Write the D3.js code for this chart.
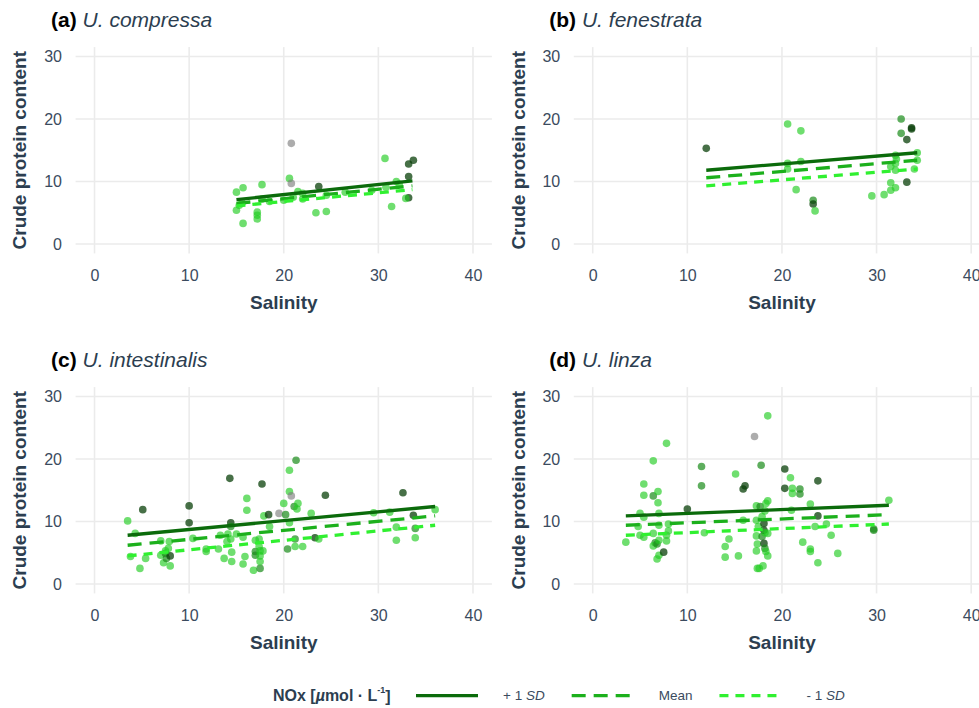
<!DOCTYPE html>
<html>
<head>
<meta charset="utf-8">
<script src="https://cdn.jsdelivr.net/npm/d3@7"></script>
<style>
  body { margin: 0; background: #fff; }
  svg { display: block; font-family: "Liberation Sans", Arial, Helvetica, sans-serif; }
</style>
</head>
<body>
<div id="root"></div>
<script>
// Panel titles
var panelLetters = ["(a)", "(b)", "(c)", "(d)"];
var speciesNames = ["U. compressa", "U. fenestrata", "U. intestinalis", "U. linza"];

// Tick labels
var xTicks = [0, 10, 20, 30, 40];
var yTicks = [0, 10, 20, 30];

// Points: [salinity, crude protein, NOx level] (2 = high, 1 = mid, 0 = low, -1 = missing)
var compressaPoints = [
  [15.0, 8.3, 0], [15.7, 9.0, 0], [15.0, 5.4, 0], [15.7, 3.3, 0], [15.6, 6.6, 0],
  [15.3, 6.2, 0], [17.7, 9.5, 0], [17.2, 5.1, 0], [17.2, 4.6, 0], [17.2, 4.0, 0],
  [17.7, 7.2, 0], [18.5, 6.8, 0], [20.8, 16.1, -1], [20.6, 10.5, 0], [20.8, 9.7, -1],
  [21.0, 7.5, 0], [21.5, 8.4, 0], [22.0, 8.1, 0], [22.0, 7.2, 0], [20.0, 7.0, 0],
  [23.7, 9.2, 2], [23.4, 5.0, 0], [24.5, 5.2, 0], [24.5, 7.8, 0], [26.5, 8.3, 0],
  [29.3, 8.6, 0], [30.7, 13.7, 0], [30.8, 9.1, 0], [31.4, 6.0, 0], [31.9, 10.0, 0],
  [32.2, 9.6, 0], [33.2, 12.8, 2], [33.7, 13.4, 2], [33.2, 10.8, 2], [33.2, 7.4, 2],
  [32.9, 7.3, 0]
];
var fenestrataPoints = [
  [12.0, 15.3, 2], [20.6, 19.2, 0], [22.0, 18.1, 0], [20.6, 12.9, 0], [20.6, 12.0, 0],
  [22.0, 13.2, 0], [21.5, 8.7, 0], [23.3, 7.0, 1], [23.3, 6.4, 2], [23.5, 5.3, 0],
  [32.6, 20.0, 1], [32.6, 17.7, 1], [33.2, 16.7, 2], [33.7, 18.6, 2], [33.7, 18.4, 2],
  [33.2, 9.9, 2], [29.5, 7.7, 0], [30.8, 7.9, 0], [31.5, 9.8, 0], [31.5, 8.6, 0],
  [32.0, 9.0, 0], [32.0, 14.2, 0], [32.0, 12.9, 0], [32.0, 11.8, 0], [31.5, 12.4, 0],
  [32.1, 13.6, 0], [34.3, 14.6, 0], [34.3, 13.4, 0], [34.0, 12.0, 0]
];
var intestinalisPoints = [
  [3.5, 10.1, 0], [4.3, 8.1, 0], [3.8, 4.4, 0], [5.1, 11.9, 2], [5.4, 4.1, 0],
  [4.8, 2.5, 0], [7.0, 6.9, 0], [7.0, 4.6, 0], [7.3, 3.4, 0], [7.5, 4.9, 1],
  [7.6, 4.1, 1], [7.9, 6.8, 0], [7.8, 5.7, 0], [8.0, 4.5, 2], [8.0, 2.9, 0],
  [7.5, 5.3, 0], [10.0, 12.5, 2], [10.0, 9.8, 2], [10.4, 7.3, 0], [11.8, 5.6, 0],
  [11.8, 5.2, 0], [13.1, 5.6, 0], [13.3, 7.8, 0], [13.7, 4.1, 0], [14.0, 6.8, 0],
  [14.1, 8.0, 0], [14.3, 16.9, 2], [14.4, 9.8, 2], [14.4, 9.2, 1], [14.5, 5.1, 0],
  [14.5, 3.6, 0], [14.4, 7.2, 0], [15.0, 8.0, 0], [15.7, 7.5, 0], [15.9, 4.4, 0],
  [15.7, 3.2, 0], [16.1, 13.7, 0], [16.1, 11.8, 0], [16.8, 2.2, 0], [17.0, 7.0, 0],
  [17.0, 5.2, 1], [17.0, 4.6, 1], [17.4, 7.2, 0], [17.4, 6.0, 0], [17.5, 5.3, 0],
  [17.7, 16.0, 2], [17.5, 2.5, 1], [17.5, 3.6, 0], [17.5, 4.5, 0], [17.8, 5.3, 0],
  [17.9, 10.9, 0], [18.4, 11.1, 2], [18.5, 9.2, 0], [19.5, 11.3, -1], [20.0, 12.9, 0],
  [20.2, 11.1, 1], [20.4, 5.6, 1], [20.6, 18.2, 0], [20.6, 9.8, 0], [20.6, 14.8, 0],
  [20.8, 14.1, -1], [21.1, 12.4, 1], [21.3, 19.8, 1], [21.2, 7.2, 1], [21.2, 6.0, 0],
  [21.4, 12.0, 0], [21.5, 12.9, 0], [22.0, 6.0, 0], [22.9, 11.3, 0], [23.3, 7.4, 2],
  [23.7, 7.2, 0], [24.4, 14.2, 2], [29.5, 11.4, 0], [31.2, 11.5, 0], [31.9, 9.1, 0],
  [31.9, 7.0, 0], [32.6, 14.6, 2], [33.7, 11.0, 2], [33.9, 8.9, 1], [33.9, 7.4, 0],
  [36.0, 11.9, 0]
];
var linzaPoints = [
  [3.5, 6.7, 0], [5.0, 11.3, 0], [5.4, 10.7, 0], [5.4, 16.0, 0], [5.4, 14.2, 0],
  [4.8, 9.2, 0], [5.0, 7.8, 0], [5.4, 7.5, 0], [6.4, 19.7, 0], [6.4, 14.1, 1],
  [6.4, 8.1, 0], [6.6, 6.6, 1], [6.4, 6.1, 0], [6.8, 6.4, 1], [6.9, 14.8, 0],
  [6.9, 13.0, 0], [7.0, 11.3, 0], [7.0, 9.4, 0], [7.0, 4.6, 0], [6.8, 4.0, 0],
  [7.0, 7.0, 0], [7.5, 5.1, 2], [7.8, 22.5, 0], [8.0, 9.6, 0], [8.0, 8.5, 0],
  [7.8, 7.8, 0], [7.8, 6.9, 0], [10.0, 12.0, 2], [11.5, 18.8, 1], [11.5, 15.7, 1],
  [11.8, 8.2, 0], [14.0, 6.0, 0], [14.0, 4.3, 0], [14.4, 7.2, 0], [15.1, 17.6, 0],
  [15.4, 4.5, 0], [15.9, 15.2, 2], [16.1, 15.7, 2], [15.9, 10.2, 0], [17.1, 23.6, -1],
  [17.3, 12.5, 0], [17.3, 10.2, 0], [17.3, 7.7, 0], [17.3, 5.3, 0], [17.4, 6.4, 0],
  [17.4, 2.5, 0], [17.6, 2.5, 0], [17.7, 12.4, 1], [17.8, 19.0, 1], [17.5, 9.2, 0],
  [17.9, 10.8, 0], [17.9, 7.6, 1], [18.0, 2.9, 0], [18.1, 8.6, 2], [18.1, 6.5, 2],
  [18.1, 9.7, 2], [18.2, 11.7, 0], [18.3, 12.9, 0], [18.5, 13.3, 0], [18.2, 8.2, 0],
  [18.5, 8.1, 0], [18.2, 5.7, 1], [18.3, 5.2, 0], [18.5, 4.5, 0], [18.5, 26.9, 0],
  [20.3, 18.4, 2], [20.3, 15.3, 2], [20.9, 17.0, 0], [21.1, 15.3, 0], [21.1, 14.5, 0],
  [21.0, 11.8, 0], [21.9, 15.2, 1], [21.9, 14.4, 1], [22.2, 6.7, 0], [23.0, 12.8, 0],
  [23.0, 5.6, 0], [23.0, 5.2, 0], [23.5, 9.2, 0], [23.8, 16.5, 2], [23.8, 10.9, 2],
  [23.8, 3.4, 0], [24.7, 9.6, 0], [25.2, 7.8, 0], [25.9, 4.9, 0], [29.7, 8.8, 1],
  [29.7, 8.6, 1], [31.3, 13.4, 0]
];
var panelPoints = [compressaPoints, fenestrataPoints, intestinalisPoints, linzaPoints];

// Fitted lines: salinity range and protein at both ends for each NOx level
var fitRange = [[15.0, 33.6], [12.0, 34.3], [3.5, 36.0], [3.5, 31.3]];
var fitHigh = [[7.1, 10.1], [11.8, 14.6], [7.8, 12.4], [10.9, 12.6]];
var fitMean = [[6.5, 9.3], [10.6, 13.4], [6.2, 10.9], [9.4, 11.1]];
var fitLow = [[6.1, 8.7], [9.3, 12.0], [4.5, 9.4], [7.8, 9.6]];

// Legend
var legendLabels = [["+ 1 ", "SD"], ["Mean", ""], ["- 1 ", "SD"]];

var width = 979, height = 708;
var lineColors = ["#0b6b0b", "#1cb01c", "#30f030"];
var lineDash = [null, "14,8", "9,7"];
var pointColor = {"2": "#0a400a", "1": "#1a8c1a", "0": "#22cc22", "-1": "#808080"};
var pointOpacity = {"2": 0.75, "1": 0.7, "0": 0.65, "-1": 0.65};
var titleColor = "#2c3e50";
var tickColor = "#3b4b5e";

var colLeft = [75.6, 573.8];
var rowTop = [47.1, 387.1];
var panelW = 416.3, panelH = 206.3;

var svg = d3.select("#root")
  .append("svg")
  .attr("width", width)
  .attr("height", height);

svg.append("rect")
  .attr("width", width)
  .attr("height", height)
  .attr("fill", "#fff");

panelPoints.forEach(function(points, i) {
  var left = colLeft[i % 2], top = rowTop[Math.floor(i / 2)];

  var x = d3.scaleLinear().domain([-2, 42]).range([0, panelW]);
  var y = d3.scaleLinear().domain([-1.5, 31.5]).range([panelH, 0]);

  var g = svg.append("g")
    .attr("transform", "translate(" + left + "," + top + ")");

  // grid
  g.selectAll(".vgrid")
    .data(xTicks)
    .enter().append("line")
    .attr("x1", function(d) { return x(d); })
    .attr("x2", function(d) { return x(d); })
    .attr("y1", 0)
    .attr("y2", panelH)
    .attr("stroke", "#ebebeb")
    .attr("stroke-width", 1.6);

  g.selectAll(".hgrid")
    .data(yTicks)
    .enter().append("line")
    .attr("x1", 0)
    .attr("x2", panelW)
    .attr("y1", function(d) { return y(d); })
    .attr("y2", function(d) { return y(d); })
    .attr("stroke", "#ebebeb")
    .attr("stroke-width", 1.6);

  // axes
  var xAxis = g.append("g")
    .attr("transform", "translate(0," + panelH + ")")
    .call(d3.axisBottom(x).tickValues(xTicks).tickSize(0).tickPadding(16));
  var yAxis = g.append("g")
    .call(d3.axisLeft(y).tickValues(yTicks).tickSize(0).tickPadding(13.6));

  [xAxis, yAxis].forEach(function(ax) {
    ax.select(".domain").remove();
    ax.selectAll("text")
      .attr("fill", tickColor)
      .attr("font-size", 16)
      .attr("font-family", "Liberation Sans, Arial, sans-serif");
  });

  // points
  g.selectAll(".pt")
    .data(points)
    .enter().append("circle")
    .attr("cx", function(d) { return x(d[0]); })
    .attr("cy", function(d) { return y(d[1]); })
    .attr("r", 3.8)
    .attr("fill", function(d) { return pointColor[d[2]]; })
    .attr("fill-opacity", function(d) { return pointOpacity[d[2]]; });

  // fitted lines
  var fits = [fitHigh[i], fitMean[i], fitLow[i]];
  var line = d3.line()
    .x(function(d) { return x(d[0]); })
    .y(function(d) { return y(d[1]); });

  fits.forEach(function(f, k) {
    g.append("path")
      .attr("d", line([[fitRange[i][0], f[0]], [fitRange[i][1], f[1]]]))
      .attr("fill", "none")
      .attr("stroke", lineColors[k])
      .attr("stroke-width", 3.3)
      .attr("stroke-dasharray", lineDash[k]);
  });

  // axis titles
  g.append("text")
    .attr("x", panelW / 2)
    .attr("y", panelH + 55.6)
    .attr("text-anchor", "middle")
    .attr("font-size", 19)
    .attr("font-weight", "bold")
    .attr("fill", titleColor)
    .text("Salinity");

  g.append("text")
    .attr("transform", "translate(-49.2," + (panelH / 2) + ") rotate(-90)")
    .attr("text-anchor", "middle")
    .attr("font-size", 19)
    .attr("font-weight", "bold")
    .attr("fill", titleColor)
    .text("Crude protein content");

  // panel title
  var title = g.append("text")
    .attr("x", -24.5)
    .attr("y", -20)
    .attr("font-size", 21);
  title.append("tspan")
    .attr("font-weight", "bold")
    .attr("fill", "#000")
    .text(panelLetters[i] + " ");
  title.append("tspan")
    .attr("font-style", "italic")
    .attr("fill", titleColor)
    .text(speciesNames[i]);
});

// legend
var legendY = 695.7;
var legend = svg.append("g");

var lt = legend.append("text")
  .attr("x", 273)
  .attr("y", legendY)
  .attr("dy", "0.35em")
  .attr("font-size", 16)
  .attr("font-weight", "bold")
  .attr("fill", titleColor);
lt.append("tspan").text("NOx [");
lt.append("tspan").attr("font-style", "italic").text("\u00b5");
lt.append("tspan").text("mol \u00b7 L");
lt.append("tspan").attr("font-size", 9).attr("dy", "-0.9em").text("-1");
lt.append("tspan").attr("dy", "0.55em").text("]");

var cursor = 416;
legendLabels.forEach(function(lab, k) {
  legend.append("line")
    .attr("x1", cursor)
    .attr("x2", cursor + 62)
    .attr("y1", legendY)
    .attr("y2", legendY)
    .attr("stroke", lineColors[k])
    .attr("stroke-width", 3.3)
    .attr("stroke-dasharray", lineDash[k]);
  cursor += 62 + 25;
  var t = legend.append("text")
    .attr("x", cursor)
    .attr("y", legendY)
    .attr("dy", "0.35em")
    .attr("font-size", 13.5)
    .attr("fill", tickColor);
  t.append("tspan").text(lab[0]);
  if (lab[1]) t.append("tspan").attr("font-style", "italic").text(lab[1]);
  cursor += t.node().getComputedTextLength() + 27;
});
</script>
</body>
</html>
